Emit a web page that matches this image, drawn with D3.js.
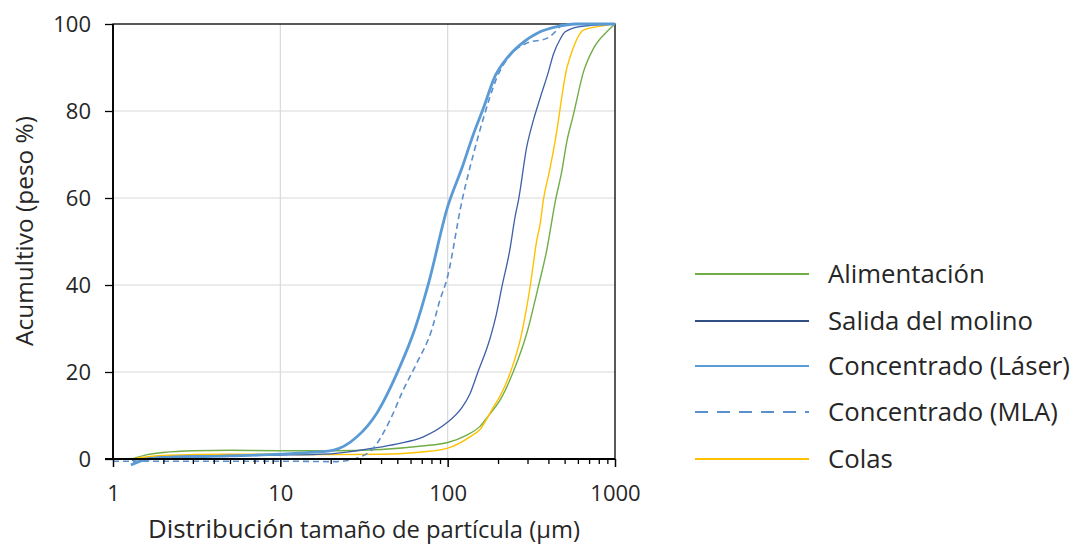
<!DOCTYPE html>
<html>
<head>
<meta charset="utf-8">
<script src="https://cdn.jsdelivr.net/npm/d3@7"></script>
<style>
  html, body { margin: 0; padding: 0; background: #fff; }
  svg { display: block; font-family: "Open Sans", "Noto Sans", sans-serif; }
</style>
</head>
<body>
<svg id="chart" width="1077" height="547"></svg>
<script>
// ---------------- DATA ----------------
const seriesNames = ["Alimentación", "Salida del molino", "Concentrado (Láser)", "Concentrado (MLA)", "Colas"];

const alimentacionX = [1.3, 1.6, 2, 3, 5, 10, 20, 40, 70, 100, 130, 156, 180, 206, 247, 297, 349, 391, 440, 480, 515, 564, 648, 744, 893, 1000];
const alimentacionY = [0, 1, 1.5, 1.9, 2, 1.9, 1.9, 2.2, 3, 3.8, 5.5, 7.5, 10.5, 13.6, 20.1, 28.9, 39.8, 48, 59.3, 66, 72.9, 79.1, 89, 94.4, 98.2, 100];

const salidaX = [1.3, 2, 5, 10, 20, 36, 50, 71.6, 98, 120, 136, 150, 180, 196, 211, 235, 253, 265, 297, 326, 357, 400, 428, 470, 504, 618, 1000];
const salidaY = [-0.3, 0.5, 0.8, 0.9, 1.2, 2.5, 3.5, 5.1, 8.2, 11.5, 15, 19.5, 28, 33.5, 39.6, 48, 55.7, 59.5, 71.8, 78, 83, 89, 93, 96.5, 98.2, 99.4, 100];

const laserX = [1.28, 1.5, 2, 5, 10, 15, 20.6, 28.7, 37.8, 49.9, 63.8, 77, 100, 122, 142, 163, 192, 230, 271, 357, 451, 580, 1000];
const laserY = [-1.4, -0.3, 0.3, 0.7, 1.1, 1.5, 2, 5.1, 10.6, 19.8, 30, 40.5, 58, 67, 74.5, 80.5, 88, 92.5, 95.2, 98.2, 99.4, 100, 100];

const mlaX = [1, 5, 10, 21.8, 28.6, 36, 45.3, 54.3, 65.3, 80.3, 90, 98.6, 122, 143, 164, 196, 247, 297, 391, 459, 481, 1000];
const mlaY = [-0.5, -0.5, -0.5, -0.6, 0.2, 2.5, 9, 15.9, 22, 29.7, 36.6, 41.1, 59.5, 70.3, 78.5, 87.5, 93.6, 95.6, 96.7, 99, 100, 100];

const colasX = [1.3, 2, 5, 10, 20, 40, 70, 100, 136, 156, 188, 206, 236, 277, 311, 341, 357, 373, 405, 438, 515, 552, 648, 815, 1000];
const colasY = [0, 0.8, 1.1, 1.1, 1, 1.1, 1.6, 2.5, 5.1, 6.8, 12, 14.5, 19.7, 28.9, 39.6, 50.3, 54, 59.5, 66, 72.9, 89.8, 93.6, 98.6, 99.5, 100];

const xTickValues = [1, 10, 100, 1000];
const yTickValues = [0, 20, 40, 60, 80, 100];
const xTitleA = "Distribución";
const xTitleB = " tamaño de partícula (µm)";
const yTitle = "Acumultivo (peso %)";

// ---------------- LAYOUT ----------------
const svg = d3.select("#chart");
const L = 113, R = 615, T = 24, B = 459;
const x = d3.scaleLog().domain([1, 1000]).range([L, R]);
const y = d3.scaleLinear().domain([0, 100]).range([B, T]);

const series = [
  { name: seriesNames[0], xs: alimentacionX, ys: alimentacionY, color: "#70AD47", w: 1.4, dash: null },
  { name: seriesNames[1], xs: salidaX, ys: salidaY, color: "#3E5FA6", w: 1.3, dash: null, legendColor: "#2F4F82" },
  { name: seriesNames[2], xs: laserX, ys: laserY, color: "#5B9BD5", w: 2.8, dash: null },
  { name: seriesNames[3], xs: mlaX, ys: mlaY, color: "#5B8FCB", w: 1.6, dash: "6,4", legendDash: "13,9" },
  { name: seriesNames[4], xs: colasX, ys: colasY, color: "#FFC000", w: 1.4, dash: null }
];

// grid
const grid = svg.append("g");
grid.selectAll("line.h").data(yTickValues.filter(v => v > 0 && v < 100)).join("line")
  .attr("x1", L).attr("x2", R).attr("y1", d => y(d)).attr("y2", d => y(d))
  .attr("stroke", "#d9d9d9").attr("stroke-width", 1.2);
grid.selectAll("line.v").data([10, 100]).join("line")
  .attr("x1", d => x(d)).attr("x2", d => x(d)).attr("y1", T).attr("y2", B)
  .attr("stroke", "#d9d9d9").attr("stroke-width", 1.2);

// frame
svg.append("rect").attr("x", L).attr("y", T).attr("width", R - L).attr("height", B - T)
  .attr("fill", "none").attr("stroke", "#000").attr("stroke-width", 1.3);

// lines
const line = d3.line().x(d => x(d[0])).y(d => y(d[1])).curve(d3.curveMonotoneX);
const order = [0, 4, 1, 3, 2];
order.forEach(i => {
  const s = series[i];
  svg.append("path")
    .datum(d3.zip(s.xs, s.ys))
    .attr("d", line)
    .attr("fill", "none")
    .attr("stroke", s.color)
    .attr("stroke-width", s.w)
    .attr("stroke-dasharray", s.dash)
    .attr("stroke-linejoin", "round");
});

// axes
const minorTicks = [];
for (let p = 0; p < 3; p++) for (let m = 2; m <= 9; m++) minorTicks.push(m * Math.pow(10, p));
const xAxisMinor = d3.axisBottom(x).tickValues(minorTicks).tickSize(5).tickFormat("");
const xAxisMajor = d3.axisBottom(x).tickValues(xTickValues).tickSize(8).tickPadding(18).tickFormat(d3.format("d"));
const gMinor = svg.append("g").attr("transform", `translate(0,${B})`).call(xAxisMinor);
gMinor.select(".domain").remove();
gMinor.selectAll("line").attr("stroke", "#000").attr("stroke-width", 1.3);
const gx = svg.append("g").attr("transform", `translate(0,${B})`).call(xAxisMajor);
gx.select(".domain").remove();
gx.selectAll("line").attr("stroke", "#000").attr("stroke-width", 1.5);
gx.selectAll("text").attr("font-size", 22).attr("fill", "#262626").attr("font-family", "Open Sans");

const yAxis = d3.axisLeft(y).tickValues(yTickValues).tickSize(8).tickPadding(14);
const gy = svg.append("g").attr("transform", `translate(${L},0)`).call(yAxis);
gy.select(".domain").remove();
gy.selectAll("line").attr("stroke", "#000").attr("stroke-width", 1.3);
gy.selectAll("text").attr("font-size", 22).attr("fill", "#262626").attr("font-family", "Open Sans");

// axis lines
svg.append("line").attr("x1", L).attr("x2", L).attr("y1", T).attr("y2", B + 1).attr("stroke", "#000").attr("stroke-width", 1.8);
svg.append("line").attr("x1", L - 8).attr("x2", R).attr("y1", B).attr("y2", B).attr("stroke", "#000").attr("stroke-width", 1.8);

// titles
function fitText(sel, target) {
  const len = sel.node().getComputedTextLength();
  const fs = parseFloat(sel.attr("font-size"));
  sel.attr("font-size", fs * target / len);
}
const xt = svg.append("text").attr("x", 364).attr("y", 538).attr("text-anchor", "middle")
  .attr("font-size", 21).attr("fill", "#262626");
xt.append("tspan").text(xTitleA);
xt.append("tspan").attr("font-size", "0.92em").text(xTitleB);
fitText(xt, 432);

const yt = svg.append("text").attr("transform", "translate(33,231) rotate(-90)")
  .attr("text-anchor", "middle").attr("font-size", 21).attr("fill", "#262626").text(yTitle);
fitText(yt, 230);

// legend
const legendY = [274, 321, 366, 412, 459];
const lg = svg.append("g");
let legendTexts = [];
series.forEach((s, i) => {
  lg.append("line").attr("x1", 695).attr("x2", 809).attr("y1", legendY[i]).attr("y2", legendY[i])
    .attr("stroke", s.legendColor || s.color).attr("stroke-width", s.w > 2 ? 2.2 : 2)
    .attr("stroke-dasharray", s.legendDash || null);
  const t = lg.append("text").attr("x", 828).attr("y", legendY[i]).attr("dy", "0.35em")
    .attr("font-size", 22).attr("fill", "#262626").text(s.name);
  legendTexts.push(t);
});
const refLen = legendTexts[2].node().getComputedTextLength();
const lfs = 22 * 242 / refLen;
legendTexts.forEach(t => t.attr("font-size", lfs));
</script>
</body>
</html>
